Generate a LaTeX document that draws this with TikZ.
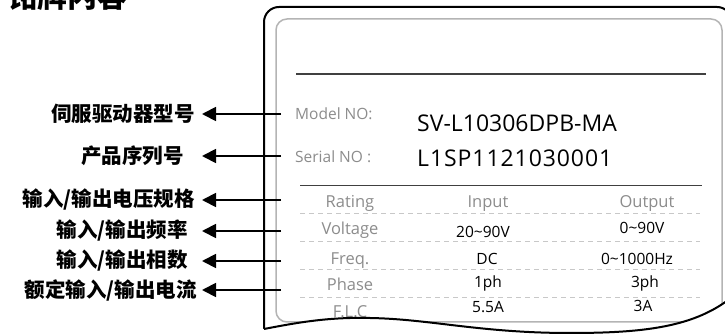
\documentclass[tikz,border=0pt]{standalone}
\usepackage{fontspec}
\setmainfont{Open Sans}
\newfontfamily\cjk{Noto Sans CJK SC}
\usetikzlibrary{arrows.meta}
\definecolor{lblgray}{HTML}{8C8C8C}
\definecolor{framegray}{HTML}{B4B4B4}
\definecolor{dashgray}{HTML}{C8C8C8}
\definecolor{rulegray}{HTML}{404040}
\tikzset{
  cnlabel/.style={anchor=east, inner sep=0pt, font=\cjk\bfseries\fontsize{20.5}{22}\selectfont},
  greylbl/.style={anchor=base, inner sep=0pt, text=lblgray, font=\fontsize{16.5}{18}\selectfont},
  valtxt/.style={anchor=base, inner sep=0pt, text=black, font=\fontsize{15.5}{17}\selectfont},
  pointer/.style={line width=1.8pt, -{Triangle[length=14pt,width=14pt]}},
  rowdash/.style={dashgray, line width=0.9pt, dash pattern=on 5pt off 4pt},
}
\begin{document}
\begin{tikzpicture}[x=1pt,y=-1pt]
\useasboundingbox (0,0) rectangle (725,336);
% title (cut off at top)
\node[anchor=base west, inner sep=0pt, font=\cjk\bfseries\fontsize{30}{32}\selectfont] (title) at (7,7.5) {铭牌内容};
% inner gray frame
\draw[framegray, line width=1.5pt, rounded corners=11pt] (276,19) rectangle (722,322);
% outer frame
\draw[black, line width=2pt, rounded corners=15pt] (264,329) -- (264,7) -- (732,7) -- (732,300);
% top rule
\draw[rulegray, line width=1.8pt] (296,74) -- (706,74);
% model / serial
\node[anchor=base west, inner sep=0pt, text=lblgray, font=\fontsize{15.5}{17}\selectfont] (mlab) at (295,120) {Model NO:};
\node[anchor=base west, inner sep=0pt, font=\fontsize{23}{25}\selectfont] (mval) at (417,132) {SV-L10306DPB-MA};
\node[anchor=base west, inner sep=0pt, text=lblgray, font=\fontsize{15.5}{17}\selectfont] (slab) at (295,163) {Serial NO :};
\node[anchor=base west, inner sep=0pt, font=\fontsize{23}{25}\selectfont\addfontfeatures{LetterSpace=4}] (sval) at (417,167) {L1SP1121030001};
% table
\draw[rulegray, line width=1pt] (300,186) -- (702,186);
\foreach \yy in {213,241,269,297} \draw[rowdash] (300,\yy) -- (700,\yy);
\node[greylbl] (r1) at (350,208) {Rating};
\node[greylbl] (h1) at (488,208) {Input};
\node[greylbl] (h2) at (647,208) {Output};
\node[greylbl] (r2) at (350,235) {Voltage};
\node[greylbl] (r3) at (350,265) {Freq.};
\node[greylbl] (r4) at (350,291) {Phase};
\node[greylbl] (r5) at (350,318) {F.L.C};
\node[valtxt] (v1) at (483,238) {20\textasciitilde90V};
\node[valtxt] (w1) at (642,234) {0\textasciitilde90V};
\node[valtxt] (v2) at (487,265) {DC};
\node[valtxt] (w2) at (637,265) {0\textasciitilde1000Hz};
\node[valtxt] (v3) at (488,288) {1ph};
\node[valtxt] (w3) at (645,288) {3ph};
\node[valtxt] (v4) at (488,313) {5.5A};
\node[valtxt] (w4) at (643,312) {3A};
% torn bottom
\fill[white] (264,329) .. controls (300,322) and (330,317) .. (370,318)
  .. controls (430,319) and (480,333) .. (570,333)
  .. controls (650,333) and (700,326) .. (738,292) -- (740,340) -- (255,340) -- (255,329) -- cycle;
\draw[black, line width=2pt] (264,329) .. controls (300,322) and (330,317) .. (370,318)
  .. controls (430,319) and (480,333) .. (570,333)
  .. controls (650,333) and (700,326) .. (738,292);
% left labels
\node[cnlabel] (L1) at (195,114) {伺服驱动器型号};
\node[cnlabel] (L2) at (184,156) {产品序列号};
\node[cnlabel] (L3) at (195,200) {输入/输出电压规格};
\node[cnlabel] (L4) at (188,231) {输入/输出频率};
\node[cnlabel] (L5) at (188,261) {输入/输出相数};
\node[cnlabel] (L6) at (197,290) {额定输入/输出电流};
% connector ends
\coordinate (s1) at (281,114); \coordinate (t1) at (202,114);
\coordinate (s2) at (281,156); \coordinate (t2) at (202,156);
\coordinate (s3) at (281,200); \coordinate (t3) at (202,200);
\coordinate (s4) at (281,231); \coordinate (t4) at (202,231);
\coordinate (s5) at (281,261); \coordinate (t5) at (202,261);
\coordinate (s6) at (281,290); \coordinate (t6) at (202,290);
\foreach \i in {1,...,6} \draw[pointer] (s\i) -- (t\i);
\end{tikzpicture}
\end{document}
